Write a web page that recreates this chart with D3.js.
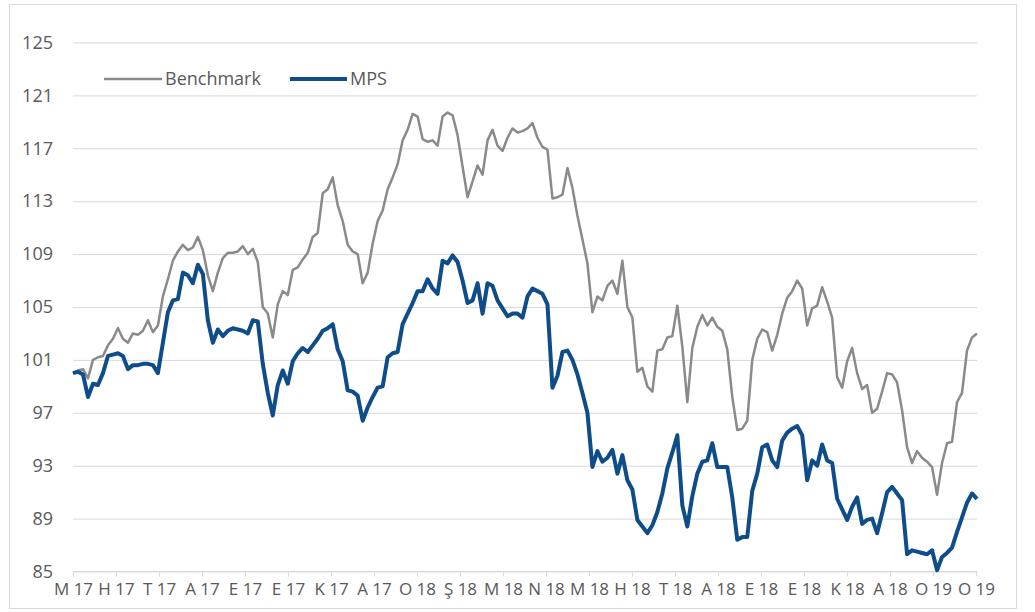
<!DOCTYPE html>
<html>
<head>
<meta charset="utf-8">
<script src="https://cdn.jsdelivr.net/npm/d3@7"></script>
<style>
  body { margin: 0; background: #fff; overflow: hidden; }
  svg { display: block; }
</style>
</head>
<body>
<svg id="chart" width="1035" height="612"></svg>
<script>
// Tick labels (Turkish month initials + year)
const monthLabels = ["M 17", "H 17", "T 17", "A 17", "E 17", "E 17", "K 17", "A 17", "O 18", "Ş 18", "M 18",
    "N 18", "M 18", "H 18", "T 18", "A 18", "E 18", "E 18", "K 18", "A 18", "O 19", "O 19"];
const yTicks = [85, 89, 93, 97, 101, 105, 109, 113, 117, 121, 125];

// series values, equally spaced through the period
const benchmark = [
    100.0, 100.2, 100.3, 99.6, 101.0, 101.2, 101.3, 102.1, 102.6, 103.4,
    102.6, 102.3, 103.0, 102.9, 103.2, 104.0, 103.1, 103.6, 105.8, 107.1,
    108.5, 109.2, 109.7, 109.3, 109.5, 110.3, 109.3, 107.4, 106.2, 107.6,
    108.7, 109.1, 109.1, 109.2, 109.6, 109.0, 109.4, 108.4, 105.0, 104.5,
    102.7, 105.2, 106.2, 105.9, 107.8, 108.0, 108.6, 109.1, 110.3, 110.6,
    113.6, 113.9, 114.8, 112.7, 111.5, 109.7, 109.2, 109.0, 106.8, 107.6,
    109.8, 111.5, 112.3, 113.9, 114.8, 115.8, 117.6, 118.4, 119.6, 119.4,
    117.7, 117.5, 117.6, 117.2, 119.4, 119.7, 119.5, 118.0, 115.6, 113.3,
    114.5, 115.7, 115.0, 117.6, 118.4, 117.2, 116.8, 117.8, 118.5, 118.2,
    118.3, 118.5, 118.9, 117.8, 117.1, 116.9, 113.2, 113.3, 113.5, 115.5,
    114.0, 111.9, 110.1, 108.3, 104.6, 105.8, 105.5, 106.6, 107.0, 106.0,
    108.5, 105.0, 104.2, 100.1, 100.4, 99.0, 98.6, 101.7, 101.8, 102.7,
    102.8, 105.1, 102.0, 97.8, 101.9, 103.5, 104.4, 103.6, 104.2, 103.5,
    103.2, 101.8, 98.2, 95.7, 95.8, 96.4, 101.0, 102.6, 103.3, 103.1,
    101.7, 102.9, 104.5, 105.7, 106.2, 107.0, 106.4, 103.6, 104.9, 105.1,
    106.5, 105.4, 104.2, 99.7, 98.9, 100.9, 101.9, 100.0, 98.8, 99.1,
    97.0, 97.3, 98.6, 100.0, 99.9, 99.3, 97.2, 94.4, 93.2, 94.1,
    93.6, 93.3, 92.9, 90.8, 93.2, 94.7, 94.8, 97.8, 98.5, 101.7,
    102.7, 103.0
];
const mps = [
    100.0, 100.1, 99.9, 98.2, 99.2, 99.1, 100.0, 101.3, 101.4, 101.5,
    101.3, 100.3, 100.6, 100.6, 100.7, 100.7, 100.6, 100.0, 102.3, 104.6,
    105.5, 105.6, 107.6, 107.4, 106.8, 108.2, 107.5, 104.0, 102.3, 103.3,
    102.8, 103.2, 103.4, 103.3, 103.2, 103.0, 104.0, 103.9, 100.7, 98.5,
    96.8, 99.1, 100.2, 99.2, 100.9, 101.5, 101.9, 101.6, 102.1, 102.6,
    103.2, 103.4, 103.7, 101.8, 100.9, 98.7, 98.6, 98.3, 96.4, 97.4,
    98.2, 98.9, 99.0, 101.2, 101.5, 101.6, 103.7, 104.5, 105.3, 106.2,
    106.2, 107.1, 106.4, 106.0, 108.5, 108.3, 108.9, 108.4, 107.0, 105.3,
    105.5, 106.8, 104.5, 106.8, 106.6, 105.5, 104.9, 104.3, 104.5, 104.5,
    104.2, 105.8, 106.4, 106.2, 106.0, 105.2, 98.9, 99.8, 101.6, 101.7,
    101.0, 99.9, 98.5, 97.0, 92.9, 94.1, 93.3, 93.6, 94.2, 92.4,
    93.8, 91.9, 91.2, 88.9, 88.4, 87.9, 88.5, 89.5, 90.9, 92.8,
    94.0, 95.3, 90.0, 88.4, 90.7, 92.4, 93.3, 93.4, 94.7, 92.9,
    92.9, 92.9, 90.6, 87.4, 87.6, 87.6, 91.1, 92.4, 94.4, 94.6,
    93.4, 92.9, 94.9, 95.5, 95.8, 96.0, 95.3, 91.9, 93.4, 93.0,
    94.6, 93.4, 93.2, 90.5, 89.7, 88.9, 89.9, 90.6, 88.6, 88.9,
    89.0, 87.9, 89.4, 91.0, 91.4, 90.9, 90.4, 86.3, 86.6, 86.5,
    86.4, 86.3, 86.6, 85.1, 86.1, 86.4, 86.8, 88.0, 89.1, 90.2,
    90.9, 90.5
];

const seriesNames = ["Benchmark", "MPS"];
const seriesColors = ["#8a8a8a", "#0f4c8a"];

// General Variables
const margin = { top: 42.5, left: 73, right: 58, bottom: 40.5 };
const chart = d3.select("#chart");
const innerWidth = 1035 - margin.left - margin.right;
const innerHeight = 612 - margin.top - margin.bottom;
const font = "'Open Sans', 'DejaVu Sans', sans-serif";

// outer frame
chart.append("rect")
    .attr("x", 9.5).attr("y", 4.5)
    .attr("width", 1007).attr("height", 604)
    .attr("fill", "#fff")
    .attr("stroke", "#d9d9d9");

const g = chart.append("g")
    .attr("transform", "translate(" + margin.left + "," + margin.top + ")");

// scales
let x = d3.scaleLinear()
    .domain([0, benchmark.length - 1])
    .range([0, innerWidth]);

let xLabel = d3.scalePoint()
    .domain(d3.range(monthLabels.length))
    .range([0, innerWidth - 1]);

let y = d3.scaleLinear()
    .domain([85, 125])
    .range([innerHeight, 0]);

// Y axis with gridlines
const yAxis = g.append("g")
    .call(d3.axisLeft(y).tickValues(yTicks).tickSize(-innerWidth).tickPadding(20));
yAxis.select(".domain").remove();
yAxis.selectAll(".tick line").attr("stroke", "#d9d9d9");
yAxis.selectAll(".tick text")
    .attr("fill", "#595959")
    .style("font-family", font)
    .style("font-size", "18px");

// X axis
const xAxis = g.append("g")
    .attr("transform", "translate(0," + innerHeight + ")")
    .call(d3.axisBottom(xLabel).tickSize(5).tickFormat(i => monthLabels[i]));
xAxis.select(".domain").attr("stroke", "#d9d9d9").attr("d", "M0,0H" + innerWidth);
xAxis.selectAll(".tick line").attr("stroke", "#d9d9d9");
xAxis.selectAll(".tick text")
    .attr("y", 23)
    .attr("dy", null)
    .attr("fill", "#595959")
    .style("font-family", font)
    .style("font-size", "17px");

// lines
const line = d3.line()
    .x((d, i) => x(i))
    .y(d => y(d));

g.append("path")
    .datum(benchmark)
    .attr("fill", "none")
    .attr("stroke", seriesColors[0])
    .attr("stroke-width", 2.5)
    .attr("stroke-linejoin", "round")
    .attr("d", line);

g.append("path")
    .datum(mps)
    .attr("fill", "none")
    .attr("stroke", seriesColors[1])
    .attr("stroke-width", 4)
    .attr("stroke-linejoin", "round")
    .attr("d", line);

// Legend
const legendX = [104, 290];
const legendW = [58, 57];
seriesNames.forEach((name, i) => {
    chart.append("line")
        .attr("x1", legendX[i]).attr("x2", legendX[i] + legendW[i])
        .attr("y1", 79).attr("y2", 79)
        .attr("stroke", seriesColors[i])
        .attr("stroke-width", i == 0 ? 2.5 : 4);
    chart.append("text")
        .attr("x", legendX[i] + legendW[i] + 3)
        .attr("y", 79)
        .attr("dy", "0.35em")
        .attr("fill", "#595959")
        .style("font-family", font)
        .style("font-size", "18px")
        .text(name);
});
</script>
</body>
</html>
